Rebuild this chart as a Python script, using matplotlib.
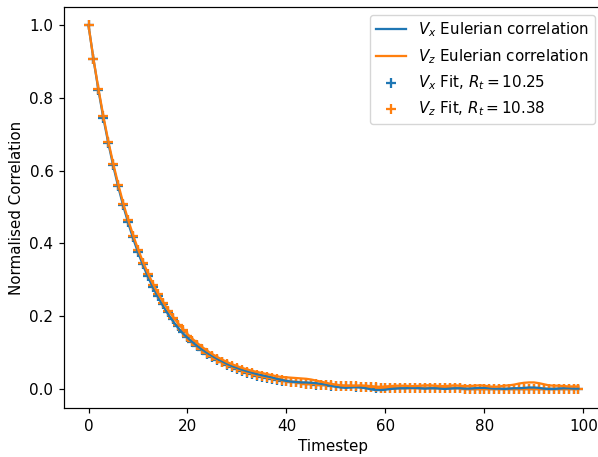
import numpy as np
import matplotlib
matplotlib.use('Agg')
import matplotlib.pyplot as plt

# scale factor of the original render relative to dpi 100 defaults
k = 1.087
plt.rcParams['font.size'] = 10 * k
plt.rcParams['lines.linewidth'] = 1.5 * k
plt.rcParams['axes.linewidth'] = 0.8 * k
for ax_name in ['xtick', 'ytick']:
    plt.rcParams[ax_name + '.major.size'] = 3.5 * k
    plt.rcParams[ax_name + '.major.width'] = 0.8 * k
    plt.rcParams[ax_name + '.major.pad'] = 3.5 * k

timestep = list(range(100))

# Eulerian correlations
vx_corr = [1.000, 0.907, 0.822, 0.745, 0.676, 0.613, 0.556, 0.504, 0.457, 0.414,
           0.375, 0.340, 0.308, 0.279, 0.253, 0.229, 0.207, 0.187, 0.169, 0.153,
           0.140, 0.128, 0.117, 0.107, 0.098, 0.090, 0.082, 0.075, 0.068, 0.062,
           0.057, 0.052, 0.048, 0.044, 0.040, 0.037, 0.034, 0.031, 0.027, 0.024,
           0.021, 0.019, 0.018, 0.017, 0.017, 0.016, 0.015, 0.013, 0.011, 0.008,
           0.005, 0.003, 0.002, 0.003, 0.004, 0.003, 0.001, -0.002, -0.004, -0.004,
           -0.003, -0.001, 0.000, 0.001, 0.001, 0.002, 0.002, 0.001, 0.000, 0.001,
           0.001, 0.000, -0.001, 0.000, 0.001, 0.001, 0.000, 0.000, 0.001, 0.002,
           0.002, 0.001, 0.000, 0.000, -0.001, 0.000, 0.001, 0.001, 0.002, 0.003,
           0.003, 0.002, 0.000, -0.001, -0.001, 0.000, 0.001, 0.001, 0.000, 0.000]

vz_corr = [1.000, 0.908, 0.826, 0.750, 0.681, 0.619, 0.563, 0.511, 0.465, 0.423,
           0.384, 0.349, 0.318, 0.289, 0.263, 0.240, 0.218, 0.199, 0.181, 0.165,
           0.150, 0.137, 0.125, 0.114, 0.104, 0.095, 0.087, 0.080, 0.073, 0.067,
           0.062, 0.057, 0.053, 0.049, 0.046, 0.043, 0.040, 0.037, 0.034, 0.032,
           0.031, 0.030, 0.029, 0.028, 0.027, 0.025, 0.022, 0.019, 0.016, 0.013,
           0.011, 0.009, 0.008, 0.008, 0.008, 0.009, 0.008, 0.007, 0.005, 0.005,
           0.006, 0.007, 0.008, 0.008, 0.008, 0.007, 0.007, 0.008, 0.009, 0.009,
           0.008, 0.007, 0.007, 0.008, 0.009, 0.008, 0.007, 0.007, 0.008, 0.009,
           0.008, 0.006, 0.005, 0.006, 0.008, 0.009, 0.011, 0.014, 0.016, 0.017,
           0.017, 0.015, 0.012, 0.009, 0.008, 0.008, 0.007, 0.006, 0.006, 0.006]

# fitted curves (markers)
vx_fit = [1.000, 0.907, 0.823, 0.746, 0.677, 0.614, 0.557, 0.505, 0.458, 0.416,
          0.377, 0.342, 0.310, 0.281, 0.255, 0.232, 0.210, 0.191, 0.173, 0.157,
          0.142, 0.129, 0.117, 0.106, 0.096, 0.087, 0.079, 0.072, 0.065, 0.059,
          0.054, 0.049, 0.044, 0.040, 0.036, 0.033, 0.030, 0.027, 0.024, 0.022,
          0.020, 0.018, 0.017, 0.015, 0.014, 0.012, 0.011, 0.010, 0.009, 0.008,
          0.008, 0.007, 0.006, 0.006, 0.005, 0.005, 0.004, 0.004, 0.003, 0.003,
          0.003, 0.003, 0.002, 0.002, 0.002, 0.002, 0.002, 0.002, 0.001, 0.001,
          0.001, 0.001, 0.001, 0.001, 0.001, 0.001, 0.000, 0.000, 0.000, 0.000,
          0.000, 0.000, 0.000, 0.000, 0.000, 0.000, 0.000, 0.000, 0.000, 0.000,
          0.000, 0.000, 0.000, 0.000, 0.000, 0.000, 0.000, 0.000, 0.000, 0.000]

vz_fit = [1.000, 0.908, 0.825, 0.749, 0.680, 0.618, 0.561, 0.509, 0.463, 0.420,
          0.381, 0.346, 0.315, 0.286, 0.259, 0.236, 0.214, 0.194, 0.176, 0.160,
          0.146, 0.132, 0.120, 0.109, 0.099, 0.090, 0.082, 0.074, 0.067, 0.061,
          0.056, 0.050, 0.046, 0.042, 0.038, 0.034, 0.031, 0.028, 0.026, 0.023,
          0.021, 0.019, 0.017, 0.016, 0.014, 0.013, 0.012, 0.011, 0.010, 0.009,
          0.008, 0.007, 0.007, 0.006, 0.006, 0.005, 0.005, 0.004, 0.004, 0.003,
          0.003, 0.003, 0.003, 0.003, 0.002, 0.002, 0.002, 0.002, 0.002, 0.001,
          0.001, 0.001, 0.001, 0.001, 0.001, 0.001, 0.000, 0.000, 0.000, 0.000,
          0.000, 0.000, 0.000, 0.000, 0.000, 0.000, 0.000, 0.000, 0.000, 0.000,
          0.000, 0.000, 0.000, 0.000, 0.000, 0.000, 0.000, 0.000, 0.000, 0.000]

rt_x = 10.25
rt_z = 10.38

fig = plt.figure(figsize=(5.98, 4.57), dpi=100)
# axes runs past the right edge of the picture, like the cropped original
ax = fig.add_axes([64 / 598, 48.7 / 457, 539 / 598, 401.3 / 457])
ax.spines['right'].set_visible(False)

ax.plot(timestep, vx_corr, color='tab:blue', label=r'$V_x$ Eulerian correlation')
ax.plot(timestep, vz_corr, color='tab:orange', label=r'$V_z$ Eulerian correlation')
ax.scatter(timestep, vx_fit, marker='+', s=36 * k * k, color='tab:blue',
           label=r'$V_x$ Fit, $R_t = $' + f'{rt_x:.2f}')
ax.scatter(timestep, vz_fit, marker='+', s=36 * k * k, color='tab:orange',
           label=r'$V_z$ Fit, $R_t = $' + f'{rt_z:.2f}')

ax.set_xticks([0, 20, 40, 60, 80, 100])
ax.set_xlabel('Timestep')
ax.set_ylabel('Normalised Correlation')
ax.legend(loc='upper right')

fig.savefig('out.png', dpi=100)
